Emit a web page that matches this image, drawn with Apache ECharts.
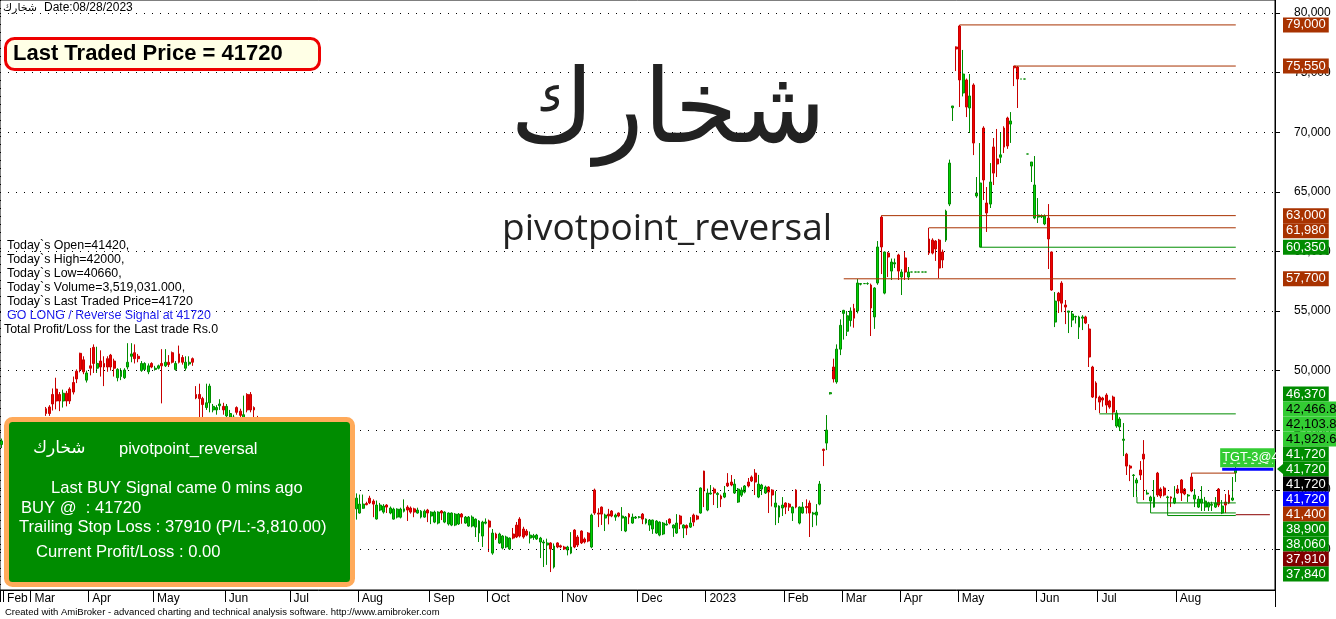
<!DOCTYPE html>
<html><head><meta charset="utf-8">
<script src="https://cdn.jsdelivr.net/npm/echarts@6/dist/echarts.min.js"></script>
<style>html,body{margin:0;padding:0;background:#fff}#c{width:1336px;height:619px}</style>
</head><body><div id="c"></div>
<script>
// ---------------- DATA ----------------
const monthKeys   = ['2022-01','2022-02','2022-03','2022-04','2022-05','2022-06','2022-07','2022-08','2022-09','2022-10','2022-11','2022-12','2023-01','2023-02','2023-03','2023-04','2023-05','2023-06','2023-07','2023-08'];
const monthLabels = ['','Feb','Mar','Apr','May','Jun','Jul','Aug','Sep','Oct','Nov','Dec','2023','Feb','Mar','Apr','May','Jun','Jul','Aug'];
const monthBarCounts = [1,8,17,19,21,19,20,21,17,22,22,20,23,17,17,17,23,18,23,18];
const futureBars = 11;
const yTicks = [35000,40000,45000,50000,55000,60000,65000,70000,75000,80000];
const yMin = 31594, yMax = 81090;

// [open, high, low, close]
const barsJan22toJun22 = [
[43800,44300,43500,44100],[44100,44600,43900,44400],[44400,44700,44000,44200],[44200,44900,44100,44800],[44800,45300,44500,45100],
[45100,45400,44600,44800],[44800,45200,44400,45000],[45000,45600,44800,45400],[45400,45700,45000,45200],[45200,45800,45000,45600],
[45600,45900,45200,45500],[45500,45900,45100,45800],[45800,45950,45500,45900],[46800,46950,46200,46400],[46950,47100,46200,46400],
[48000,48500,46650,47200],[48450,49400,46750,47450],[48000,48200,46600,47450],[47450,48400,46900,48100],[48100,48300,47000,47450],
[48450,48600,47200,47450],[49000,49500,48000,48200],[49950,50100,48950,49300],[51450,51500,49850,50100],[50900,51200,49700,49900],
[49200,50000,49000,49800],[50400,51900,49600,50200],[51950,52200,49800,50600],[50200,52000,49800,50600],[50800,51700,49500,50300],
[50600,51200,48700,50300],[51000,51200,49900,50300],[51300,51400,50000,50300],[50800,51000,49500,50200],[49400,50200,49100,50100],
[49500,50200,49200,50000],[49400,50200,49300,50050],[50300,52300,50100,50700],[51200,52300,50700,51400],[51500,52200,50600,51000],
[51200,51400,50700,51000],[50000,50800,49900,50600],[50100,50700,50000,50600],[49900,50600,49700,50400],[50600,50700,50200,50300],
[50100,50400,50000,50200],[50200,50500,50100,50400],[50600,51800,47250,50400],[50400,51800,50300,50700],[50700,51300,50300,50500],
[51500,51600,50600,50700],[50100,50800,50000,50600],[51400,52100,50600,50700],[51100,51300,50500,50700],[50200,51200,50000,50700],
[50550,51200,50400,50700],[51000,51100,50400,50700],[48000,48700,47600,47700],[48000,48900,46100,47650],[47650,47800,46100,47150],
[46900,48900,46700,47300],[47300,48900,46500,48700],[46700,47200,46500,47000],[46700,47100,46300,46900],[47050,47600,46700,47200],
[47000,47300,46300,46700],[46200,47200,46000,47000],[45900,46700,45700,46400],[45900,46300,45600,46100],[46900,47000,46300,46500],
[46600,46800,46000,46250],[45900,47900,45800,46300],[48000,48100,46500,46700],[48000,48200,46500,46700],[46900,47000,46100,46700],
[46000,46200,45300,45500],[45500,45800,44900,45100],[45100,45400,44500,44700],[44700,45200,44400,45000],[45000,45300,44200,44400],
[44400,44600,43600,43800],[43800,44200,43300,44000],[44000,44300,43400,43600],[43600,43900,42800,43000],[43000,43500,42700,43300]
];
const barsJul22toDec22 = [
[43300,43600,42600,42800],[42800,43100,42000,42300],[42300,42900,42100,42700],[42700,43000,42200,42400],[42400,42600,41500,41700],
[41700,42200,41400,42000],[42000,42300,41300,41500],[41500,41800,40800,41100],[41100,41600,40900,41400],[41400,41700,40700,40900],
[40900,41200,40300,40600],[40600,41000,40200,40800],[40800,41100,40100,40300],[40300,40600,39700,39900],[39900,40400,39600,40200],
[40200,40500,39500,39700],[39700,40100,39300,39900],[39900,40300,39500,39600],[39600,40000,39200,39500],[38400,39700,37500,39300],
[38050,39600,38000,38800],[38450,39600,38400,38800],[38850,39000,38700,38750],[39300,39500,38800,38900],[39050,39200,37700,38800],
[37550,39100,37500,38720],[38300,38900,38200,38720],[38130,38800,38000,38640],[38720,38800,38050,38550],[38050,38600,37950,38470],
[37540,38500,37500,38380],[37710,38450,37600,38380],[37700,38500,37600,38380],[38200,39200,38100,38400],[38550,38700,37380,38300],
[38470,38600,38000,38130],[38400,38500,37700,38130],[38050,38500,38000,38300],[37710,38300,37600,38210],[37710,38350,37650,38210],
[38300,38400,37290,38050],[37800,38200,37120,38130],[37290,38250,37200,38130],[37210,38200,37100,38130],[38220,38300,37460,38050],
[37290,38200,37200,38130],[37130,38100,37000,38050],[37040,38100,36950,38050],[37040,38050,36950,37960],[37130,38050,37050,37960],
[37960,38050,37150,37710],[37210,37800,37150,37710],[36960,37800,36900,37710],[36960,37850,36850,37710],[36870,37600,36040,37540],
[36370,37450,35620,37380],[36120,37400,35200,37290],[37200,37600,37100,37300],[37380,37500,34780,36870],[34690,36710,34550,36370],
[36290,36400,35800,35950],[35530,36400,35450,36290],[35110,36200,35000,36120],[35200,36150,35100,36040],[35030,36000,34950,35950],
[36290,36800,35850,35950],[37040,37300,35950,36040],[37540,37700,36000,36120],[36710,36900,35900,36040],[36540,36700,36100,36200],
[35950,36500,35500,36200],[36000,36300,35800,36150],[35870,36300,35800,36200],[35620,36050,34270,35950],[35540,35800,33520,35620],
[35370,35900,33700,35540],[35540,35600,33100,35030],[33520,35500,33400,35280],[35540,35600,35100,35200],[35300,35400,35100,35200],
[35200,35300,34950,35030],[34950,35300,34500,35200],[34690,36450,34600,35200],[36620,36700,35100,35200],[36040,36200,35200,35370],
[36540,36600,35450,35540],[35870,36000,35500,35620],[36370,36450,35600,35700],[35200,38000,35100,37880],[39980,40100,37900,38050],
[38050,38450,36870,37960],[38550,38600,37050,37960],[37630,38000,36540,37880],[37960,38400,37100,37800],[38220,38300,37700,37800],
[37710,38000,37400,37880],[38050,38100,37700,37800],[37630,38550,36540,37800],[36540,37800,36450,37710],[37960,38050,37120,37710],
[37210,38000,37150,37710],[37630,37800,37550,37710],[37700,37800,37600,37720],[37960,38050,37120,37540],[37210,37600,37100,37540],
[37040,37550,36550,37460],[36710,37500,36300,37460],[36370,37450,36300,37380],[36200,37350,36100,37290],[36290,37300,36200,37210],
[37050,37450,37000,37130],[37540,37600,37100,37210],[36790,37100,36050,37040],[36370,37960,36300,37210],[37800,37900,36710,37130],
[36790,37100,35950,37040],[37000,37100,36200,36790],[36870,37710,36800,37210],[37880,38000,36950,37290],[37800,37900,37450,37540],
[38050,40200,38000,40150],[41570,41600,38550,39900]
];
const barsJan23toAug23 = [
[38300,40100,38200,39730],[39650,40400,39600,39730],[40060,40200,38720,39730],[39600,39800,38470,39700],[39480,39600,38550,39230],
[39390,40320,39300,39730],[40560,41400,40230,40320],[40650,41240,40300,40400],[39730,40900,39650,40480],[38970,40150,38900,40060],
[39550,40200,39400,39980],[39810,40400,39700,40320],[40650,40990,40200,40320],[41070,41200,40650,40740],[41400,41740,39560,40650],
[39390,41250,39300,40480],[40060,40500,39560,40400],[39730,40350,39650,40230],[40230,40300,38050,39810],[39980,40050,38600,39560],
[38550,39890,37040,38890],[37710,38700,37210,38640],[38470,39390,37800,38720],[38890,38950,37960,38550],[38800,38900,38220,38550],
[38050,38600,37380,38550],[39980,40050,38450,38550],[37210,38600,37100,38550],[38050,38970,38000,38550],[38600,39200,38000,38500],
[38890,39100,36040,38050],[37960,38150,36870,38050],[37880,38800,37000,38130],[38800,40740,38700,40480],[43400,43450,41990,43300],
[43920,46270,43330,45010],[48050,48200,48000,48150],[50300,51000,49000,49300],[49050,52200,48900,51800],[51800,54300,51300,53800],
[54800,55100,52600,55050],[53300,55000,52900,54600],[54200,55300,53700,55000],[55200,55600,53600,54400],[55000,57680,54800,57350],
[57250,57350,57150,57300],[57300,57300,57300,57300],[57300,57400,57200,57300],[57180,57300,52900,55250],[54500,57000,53500,56930],
[57350,60870,57200,60370],[62880,63000,58100,60370],[56500,60000,56400,59950],[59860,59950,57850,59530],[58350,59400,57600,59110],
[58950,59400,58600,59050],[59700,59800,57600,58350],[57850,58500,56340,58270],[59450,60000,57600,58270],[57850,58690,57600,58270],
[58270,58270,58270,58270],[58270,58270,58270,58270],[58270,58270,58270,58270],[58270,58270,58270,58270],[58270,58270,58270,58270],
[61040,61980,59700,59860],[60950,61100,59750,59860],[60870,60950,59200,60200],[60950,61050,57750,58600],[59950,60150,58600,59280],
[60950,63500,60800,63380],[63970,67700,63800,67410],[72050,72200,70940,72200],[77150,77200,75130,76980],[78910,79000,72110,74380],
[73290,76900,73000,74880],[74380,74500,71270,72110],[72030,74880,69930,73040],[73960,74100,68080,69090],[64650,66240,64500,64900],
[60370,69090,60350,65740],[70350,70500,64310,65990],[64060,65400,61630,63220],[63970,67410,63640,65820],[68760,69510,65570,66570],
[67750,70270,66240,67330],[67900,69930,67410,68100],[70350,70500,68250,68750],[71190,71300,68600,68840],[70680,71690,69100,70940],
[75550,75550,73870,75400],[75470,75550,72030,74460],[74460,74460,74460,74460],[74460,74460,74460,74460],[68170,68170,68170,68170],
[67160,67500,65820,67500],[62800,68000,62700,65570],[62880,64480,62380,63050],[62900,63100,62800,63000],[62300,63100,62200,62970],
[62800,63970,58520,61040],[59950,60000,56700,56760],[54070,56590,53650,55830],[56500,56600,54830,55840],[57340,57500,54900,55660],
[55500,55920,53900,55330],[54900,55000,53150,55000],[54240,55000,53650,54750],[54500,54600,53950,54550],[53650,54600,52650,54500],
[54400,54650,53400,54500],[54500,54600,53900,53990],[53490,53900,50300,51140],[50300,50400,47700,47780],[48960,49100,46690,47700],
[47780,47900,46440,47360],[47700,47800,46970,47530],[47950,48100,46440,47110],[47450,47550,46800,46940],[47780,47900,45850,46520],
[45350,46690,45200,46440],[45270,46100,44930,45940],[44150,45600,42830,44250],[42990,43100,41240,41990],[41990,42100,40730,41820],
[41200,41320,39390,41240],[40570,41000,39390,40820],[41660,42410,40820,41240],[42990,44170,39140,42580],[39650,40000,39600,39730],
[39060,39500,38550,39390],[38550,40820,38500,39390],[41400,41500,39400,39560],[40060,40200,39300,39480],[40150,40300,39450,39560],
[39350,39500,38550,39400],[39400,39450,38550,39300],[38890,40310,38800,39310],[40060,40400,39650,39730],[40820,40900,39060,39730],
[40060,40150,39550,39650],[39480,39650,38970,39560],[41070,41400,39800,39900],[39220,40060,38550,39560],[38550,39480,38470,39220],
[38890,40310,38220,39220],[38550,39400,38220,39060],[38550,39000,38220,38890],[38700,39000,38220,38780],[38550,39390,38470,38890],
[40060,40150,38550,38720],[38050,39140,37960,38640],[38970,39650,38050,38720],[39560,39980,38800,38890],[39140,41070,39050,39310],
[41420,42000,40660,41720]
];

// pivot / support levels (value, first bar)
const resistLevels = [79000, 75550, 63000, 61980, 57700, 41400];
const resistFrom   = [281, 297, 258, 272, 247, 349];
const supportLevels = [60350, 46370, 38900, 38060, 37840];
const supportFrom   = [287, 322, 333, 337, 342];
const supportStepFrom = [null, null, 39390, 38900, 39390];
const stopLevel = 37910, buyLevel = 41720, buyFromBar = 358;

// price tags on the right axis
const tagValues = [79000,75550,63000,61980,60350,57700,46370,42466.8,42103.8,41928.6,41720,41720,41720,41720,41400,38900,38060,37910,37840];
const tagKinds  = ['res','res','res','res','sup','res','sup','tgt','tgt','tgt','sup','supArrow','close','buy','res','sup','sup','stop','sup'];

const infoLines = ['Today`s Open=41420,','Today`s High=42000,','Today`s Low=40660,','Today`s Volume=3,519,031.000,','Today`s Last Traded Price=41720','GO LONG / Reverse Signal at 41720','Total Profit/Loss for the Last trade Rs.0'];
const panelLines = ['Last BUY Signal came 0 mins ago','BUY @  : 41720','Trailing Stop Loss : 37910 (P/L:-3,810.00)','Current Profit/Loss : 0.00'];

// ---------------- BUILD ----------------
const W = 1336, H = 619;
const gridPos = {left:0, top:0, right:61, bottom:29};
const bars = [...barsJan22toJun22, ...barsJul22toDec22, ...barsJan23toAug23];
const lastBar = bars.length - 1;
const categories = [], monthStart = new Set(), labelAt = {};
monthKeys.forEach((k, m) => {
  monthStart.add(categories.length);
  if (monthLabels[m]) labelAt[categories.length] = monthLabels[m];
  for (let d = 0; d < monthBarCounts[m]; d++) categories.push(k + '#' + (d + 1));
});
const yearStart = categories.indexOf('2023-01#1');
for (let f = 0; f < futureBars; f++) categories.push('future#' + (f + 1));
const endCat = categories.length - 1;

const candleData = bars.map(([o,h,l,c]) => [o,c,l,h]);
const fmt = v => v.toLocaleString('en-US', {maximumFractionDigits: 1});

const BROWN = '#A83200', GREEN = '#008C00';
const lineSeries = (pts, color, width) => ({type:'line', data: pts, symbol:'none', silent:true, z:3,
  lineStyle:{color, width}, animation:false});

const series = [
  {type:'line', data:[], silent:true, z:1, symbol:'none',
   markLine:{silent:true, symbol:'none', label:{show:false}, animation:false,
     lineStyle:{color:'#000', width:1, type:[1,7]}, emphasis:{disabled:true},
     data: yTicks.map(v => ({yAxis: v}))}},
  {type:'candlestick', data: candleData, barWidth: 2.4, z:2,
   itemStyle:{color:'#00D000', color0:'#F00000', borderColor:'#008C00', borderColor0:'#C80000', borderColorDoji:'#008C00', borderWidth:1}}
];
resistLevels.forEach((v, i) => series.push(lineSeries([[resistFrom[i], v],[lastBar, v]], BROWN, 1)));
supportLevels.forEach((v, i) => {
  const pts = [];
  if (supportStepFrom[i] != null) pts.push([supportFrom[i], supportStepFrom[i]]);
  pts.push([supportFrom[i], v],[lastBar, v]);
  series.push(lineSeries(pts, GREEN, 1));
});
series.push(lineSeries([[lastBar, stopLevel],[endCat - 1, stopLevel]], '#8B0000', 1));
series.push(lineSeries([[buyFromBar, buyLevel],[endCat, buyLevel]], '#0000FF', 3));

const chart = echarts.init(document.getElementById('c'), null, {renderer:'canvas', width:W, height:H});
chart.setOption({
  animation:false, backgroundColor:'#fff',
  grid:{...gridPos, show:true, borderColor:'#000', borderWidth:1, containLabel:false, outerBoundsMode:'none'},
  xAxis:{type:'category', data:categories, boundaryGap:true,
    axisLine:{show:true, onZero:false, lineStyle:{color:'#000', width:1}},
    axisTick:{show:true, interval:(i)=>monthStart.has(i), length:12, lineStyle:{color:'#000'}},
    axisLabel:{show:true, interval:(i)=>labelAt[i]!==undefined, formatter:(v,i)=>labelAt[i]||'', align:'left',
      padding:[0,0,0,2], margin:3, color:'#000', fontSize:12, fontFamily:'"Liberation Sans", Arial'},
    splitLine:{show:true, interval:(i)=>i===yearStart, lineStyle:{color:'#000', width:1, type:[1,7]}}},
  yAxis:{type:'value', position:'right', min:yMin, max:yMax,
    axisLine:{show:true, lineStyle:{color:'#000'}},
    axisTick:{show:true, customValues:yTicks, length:5, lineStyle:{color:'#000'}},
    axisLabel:{show:true, customValues:yTicks, formatter:(v)=>fmt(v), margin:19, align:'left', color:'#000',
      fontSize:12, fontFamily:'"Liberation Sans", Arial'},
    splitLine:{show:false}},
  series
});

// ---------------- OVERLAYS ----------------
const AR = '"DejaVu Sans"', SANS = '"Liberation Sans", Arial';
const g = [];
const txt = (x, y, text, font, fill, extra, z) => g.push({type:'text', x, y, z: z || 100, silent:true,
  style:Object.assign({text, font, fill, verticalAlign:'middle', align:'left'}, extra || {})});

txt(3, 8, 'شخارك', '11px ' + AR, '#000');
txt(44, 8, 'Date:08/28/2023', '12px ' + SANS, '#000');
g.push({type:'rect', z:100, silent:true, shape:{x:5.5, y:38.5, width:314, height:31, r:9},
  style:{fill:'#FFFFE6', stroke:'#EE0000', lineWidth:3}});
txt(13, 54, 'Last Traded Price = 41720', 'bold 22px ' + SANS, '#000');
txt(668, 115, 'شخارك', '102px ' + AR, '#222', {align:'center'});
txt(502, 229, 'pivotpoint_reversal', '37px "Open Sans"', '#222');
infoLines.forEach((s, i) => txt(i === 6 ? 4 : 7, 246 + 14 * i, s, '12.4px ' + SANS, i === 5 ? '#2222EE' : '#000'));

g.push({type:'rect', z:100, silent:true, shape:{x:6.5, y:419.5, width:346, height:165, r:6},
  style:{fill:'#008C00', stroke:'#FFAA5A', lineWidth:5}});
txt(33, 449, 'شخارك', '17px ' + AR, '#fff');
txt(119, 449, 'pivotpoint_reversal', '16.5px ' + SANS, '#fff');
const panelX = [51, 21, 19, 36], panelY = [488, 508, 527, 552];
panelLines.forEach((s, i) => txt(panelX[i], panelY[i], s, '16.6px ' + SANS, '#fff'));
txt(5, 612, 'Created with AmiBroker - advanced charting and technical analysis software. http://www.amibroker.com', '9.5px ' + SANS, '#000');

const axisX = W - gridPos.right, plotBottom = H - gridPos.bottom;
g.push({type:'line', z:100, silent:true, shape:{x1:axisX + 0.5, y1:plotBottom, x2:axisX + 0.5, y2:plotBottom + 17}, style:{stroke:'#000', lineWidth:1}});

// target label box at the buy bar (clipped at the price axis)
const [bx, by] = chart.convertToPixel({gridIndex:0}, [buyFromBar, buyLevel]);
g.push({type:'rect', z:99, silent:true, shape:{x:bx - 2, y:by - 21, width:axisX - bx + 2, height:19}, style:{fill:'#33CC33'}});
g.push({type:'line', z:100, silent:true, shape:{x1:bx + 1, y1:by - 6, x2:axisX - 2, y2:by - 6}, style:{stroke:'#fff', lineWidth:1, lineDash:[3,4]}});
txt(bx, by - 12, 'TGT-3@4', '12.8px ' + SANS, '#fff');
g.push({type:'rect', z:101, silent:true, shape:{x:axisX + 1, y:by - 22, width:7, height:20}, style:{fill:'#fff'}});

// stacked price tags
const kindStyle = {res:['#A83200','#fff'], sup:['#008C00','#fff'], supArrow:['#008C00','#fff'], tgt:['#33CC33','#000'],
  close:['#000','#fff'], buy:['#0000FF','#fff'], stop:['#800000','#fff']};
const items = tagValues.map((v, i) => ({v, kind:tagKinds[i], y:chart.convertToPixel({yAxisIndex:0}, v)}));
items.sort((a, b) => a.y - b.y);
const gap = 15, maxY = plotBottom - 16;
for (let i = 1; i < items.length; i++) items[i].y = Math.max(items[i].y, items[i-1].y + gap);
if (items[items.length-1].y > maxY) {
  items[items.length-1].y = maxY;
  for (let i = items.length - 2; i >= 0; i--) items[i].y = Math.min(items[i].y, items[i+1].y - gap);
}
items.forEach(it => {
  const [bg, fg] = kindStyle[it.kind];
  g.push({type:'text', x:axisX + 8, y:it.y, z:110, silent:true,
    style:{text:fmt(it.v), font:'13px ' + SANS, fill:fg, backgroundColor:bg, padding:[1,3,1,3], verticalAlign:'middle', align:'left'}});
  if (it.kind === 'supArrow') g.push({type:'polygon', z:110, silent:true,
    shape:{points:[[axisX + 2, it.y],[axisX + 8, it.y - 5],[axisX + 8, it.y + 5]]}, style:{fill:bg}});
});
chart.setOption({graphic: g});
</script></body></html>
